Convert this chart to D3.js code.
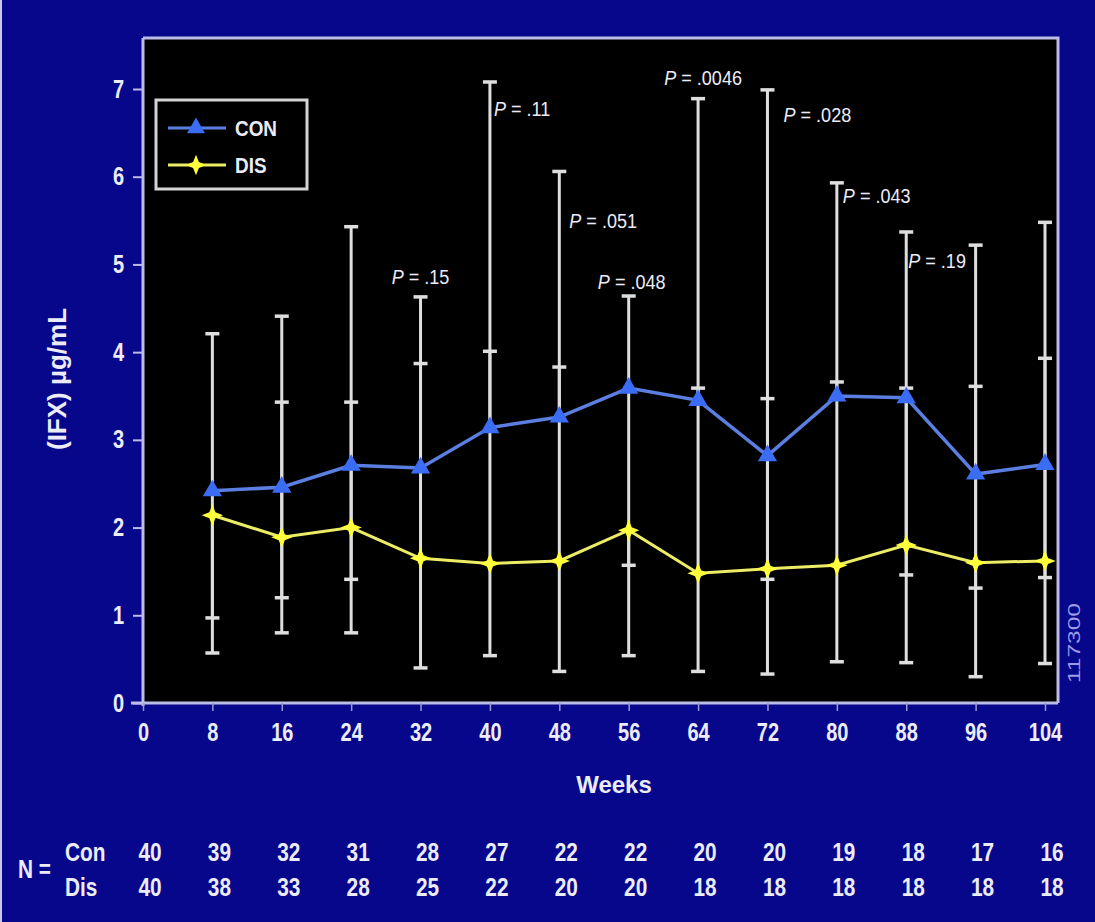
<!DOCTYPE html>
<html>
<head>
<meta charset="utf-8">
<script src="https://cdn.jsdelivr.net/npm/d3@7"></script>
<style>
  html, body { margin: 0; padding: 0; background: #07078c; }
  svg { display: block; }
</style>
</head>
<body>
<svg id="chart" width="1095" height="922"></svg>
<script>
// Infliximab trough levels (mean with ranges) for continuous vs. discontinuous groups
const weeks    = [8, 16, 24, 32, 40, 48, 56, 64, 72, 80, 88, 96, 104];
const conMean  = [2.42, 2.46, 2.71, 2.68, 3.14, 3.26, 3.59, 3.45, 2.82, 3.50, 3.48, 2.61, 2.72];
const disMean  = [2.14, 1.89, 2.00, 1.65, 1.59, 1.62, 1.97, 1.48, 1.53, 1.57, 1.80, 1.60, 1.62];
const conUpper = [4.21, 4.41, 5.43, 4.63, 7.08, 6.06, 4.64, 6.89, 6.99, 5.93, 5.37, 5.22, 5.48];
const conLower = [0.97, 1.20, 1.41, null, null, null, 1.57, null, 1.41, null, 1.46, 1.31, 1.43];
const disUpper = [null, 3.43, 3.43, 3.87, 4.01, 3.83, null, 3.59, 3.47, 3.66, 3.59, 3.61, 3.93];
const disLower = [0.57, 0.80, 0.80, 0.40, 0.54, 0.36, 0.54, 0.36, 0.33, 0.47, 0.46, 0.30, 0.45];

const xTicks = [0, 8, 16, 24, 32, 40, 48, 56, 64, 72, 80, 88, 96, 104];
const yTicks = [0, 1, 2, 3, 4, 5, 6, 7];

// P values between groups at selected visits
const pWeeks  = [32, 40, 48, 56, 64, 72, 80, 88];
const pTexts  = [".15", ".11", ".051", ".048", ".0046", ".028", ".043", ".19"];

// Patients remaining at each visit
const nWeeks = [0, 8, 16, 24, 32, 40, 48, 56, 64, 72, 80, 88, 96, 104];
const conN   = [40, 39, 32, 31, 28, 27, 22, 22, 20, 20, 19, 18, 17, 16];
const disN   = [40, 38, 33, 28, 25, 22, 20, 20, 18, 18, 18, 18, 18, 18];

// label placement for the P values: anchor, horizontal shift and baseline (in µg/mL)
const pPlacement = [
  { anchor: "middle", dx: 0,  at: 4.78 },
  { anchor: "start",  dx: 4,  at: 6.69 },
  { anchor: "start",  dx: 10, at: 5.42 },
  { anchor: "middle", dx: 3,  at: 4.72 },
  { anchor: "middle", dx: 5,  at: 7.05 },
  { anchor: "start",  dx: 16, at: 6.62 },
  { anchor: "start",  dx: 6,  at: 5.70 },
  { anchor: "start",  dx: 2,  at: 4.96 }
];

const FONT   = "'Liberation Sans', Arial, Helvetica, sans-serif";
const SQUEEZE = 0.8;   // horizontal condensing of the narrow lettering
const TEXT   = "#ececf8";
const FRAME  = "#bcbce8";
const BAR    = "#dedede";
const CON_LINE = "#5b7fe0", CON_MARK = "#3a6cf4";
const DIS_LINE = "#ecec66", DIS_MARK = "#ffff3c";

const svg = d3.select("#chart");

// condensed text placed at (x, y)
function narrowText(parent, x, y, str, anchor, sx) {
  return parent.append("text")
    .attr("transform", `translate(${x},${y}) scale(${sx || SQUEEZE},1)`)
    .attr("text-anchor", anchor || "start")
    .text(str);
}

// thin light strip on the left edge of the slide
svg.append("rect").attr("x", 0).attr("y", 0).attr("width", 2).attr("height", 922).attr("fill", "#c8c8ec");

const plot = { left: 143, right: 1058, top: 38, bottom: 703 };
const x = d3.scaleLinear().domain([0, 104]).range([143, 1045]);
const y = d3.scaleLinear().domain([0, 7]).range([703, 89]);

// black plotting area
svg.append("rect")
  .attr("x", plot.left).attr("y", plot.top)
  .attr("width", plot.right - plot.left).attr("height", plot.bottom - plot.top)
  .attr("fill", "#000");

// frame: top and right edges
svg.append("path")
  .attr("d", `M${plot.left},${plot.top} H${plot.right} V${plot.bottom}`)
  .attr("fill", "none").attr("stroke", FRAME).attr("stroke-width", 3);

// y axis
const yAxis = d3.axisLeft(y).tickValues(yTicks).tickSize(10).tickPadding(9).tickFormat(d3.format("d"));
const gy = svg.append("g").attr("transform", `translate(${plot.left},0)`).call(yAxis);
gy.select(".domain").attr("d", `M0,${plot.top}V${plot.bottom + 3}`).attr("stroke", FRAME).attr("stroke-width", 3);
gy.selectAll(".tick line").attr("stroke", FRAME).attr("stroke-width", 2);
gy.selectAll(".tick text").attr("fill", TEXT).style("font-family", FONT)
  .style("font-size", "25px").style("font-weight", "bold")
  .attr("x", -19 / SQUEEZE).attr("transform", `scale(${SQUEEZE},1)`);

// x axis
const xAxis = d3.axisBottom(x).tickValues(xTicks).tickSize(8).tickPadding(12).tickFormat(d3.format("d"));
const gx = svg.append("g").attr("transform", `translate(0,${plot.bottom})`).call(xAxis);
gx.select(".domain").attr("d", `M${plot.left - 12},0H${plot.right}`).attr("stroke", FRAME).attr("stroke-width", 3);
gx.selectAll(".tick line").attr("stroke", "#9a9acc").attr("stroke-width", 1.5);
gx.selectAll(".tick text").attr("fill", TEXT).style("font-family", FONT)
  .style("font-size", "25px").style("font-weight", "bold")
  .attr("transform", `scale(${SQUEEZE},1)`);

// axis titles
svg.append("text")
  .attr("x", 614).attr("y", 793).attr("text-anchor", "middle")
  .attr("fill", TEXT).style("font-family", FONT).style("font-size", "24px").style("font-weight", "bold")
  .text("Weeks");
svg.append("text")
  .attr("transform", "translate(66,379) rotate(-90)").attr("text-anchor", "middle")
  .attr("fill", TEXT).style("font-family", FONT).style("font-size", "26px").style("font-weight", "bold")
  .text("(IFX) µg/mL");

// error bars for both groups, drawn in white
const capW = 7;
function drawBars(mean, upper, lower) {
  const g = svg.append("g").attr("stroke", BAR).attr("fill", "none");
  weeks.forEach((w, i) => {
    const top = upper[i] != null ? upper[i] : mean[i];
    const bot = lower[i] != null ? lower[i] : mean[i];
    g.append("line").attr("x1", x(w)).attr("x2", x(w)).attr("y1", y(top)).attr("y2", y(bot)).attr("stroke-width", 3);
    [upper[i], lower[i]].forEach(v => {
      if (v == null) return;
      g.append("line").attr("x1", x(w) - capW).attr("x2", x(w) + capW)
        .attr("y1", y(v)).attr("y2", y(v)).attr("stroke-width", 3.5);
    });
  });
}
drawBars(conMean, conUpper, conLower);
drawBars(disMean, disUpper, disLower);

// four-pointed star marker
const symbolStar4 = {
  draw(ctx, size) {
    const r = Math.sqrt(size) * 0.72, ri = r * 0.4;
    for (let k = 0; k < 8; k++) {
      const a = k * Math.PI / 4 - Math.PI / 2;
      const rad = k % 2 ? ri : r;
      const px = Math.cos(a) * rad, py = Math.sin(a) * rad;
      if (k === 0) ctx.moveTo(px, py); else ctx.lineTo(px, py);
    }
    ctx.closePath();
  }
};

const line = d3.line().x(d => x(d[0])).y(d => y(d[1]));
const conPts = weeks.map((w, i) => [w, conMean[i]]);
const disPts = weeks.map((w, i) => [w, disMean[i]]);

svg.append("path").datum(conPts).attr("d", line)
  .attr("fill", "none").attr("stroke", CON_LINE).attr("stroke-width", 3.5);
svg.append("path").datum(disPts).attr("d", line)
  .attr("fill", "none").attr("stroke", DIS_LINE).attr("stroke-width", 3);

svg.append("g").selectAll("path").data(conPts).join("path")
  .attr("transform", d => `translate(${x(d[0])},${y(d[1])})`)
  .attr("d", d3.symbol(d3.symbolTriangle, 160))
  .attr("fill", CON_MARK);
svg.append("g").selectAll("path").data(disPts).join("path")
  .attr("transform", d => `translate(${x(d[0])},${y(d[1])})`)
  .attr("d", d3.symbol(symbolStar4, 220))
  .attr("fill", DIS_MARK);

// P value annotations
const pg = svg.append("g").attr("fill", TEXT).style("font-family", FONT).style("font-size", "21px");
pWeeks.forEach((w, i) => {
  const pl = pPlacement[i];
  const t = narrowText(pg, x(w) + pl.dx, y(pl.at), null, pl.anchor, 0.86);
  t.append("tspan").style("font-style", "italic").text("P");
  t.append("tspan").text(" = " + pTexts[i]);
});

// legend
const lg = svg.append("g").attr("transform", "translate(156,100)");
lg.append("rect").attr("width", 151).attr("height", 89)
  .attr("fill", "#000").attr("stroke", "#d4d4d4").attr("stroke-width", 3);
const legendItems = [
  { label: "CON", line: CON_LINE, mark: CON_MARK, sym: d3.symbolTriangle, size: 140, yy: 28 },
  { label: "DIS", line: DIS_LINE, mark: DIS_MARK, sym: symbolStar4, size: 200, yy: 65 }
];
legendItems.forEach(it => {
  lg.append("line").attr("x1", 12).attr("x2", 70).attr("y1", it.yy).attr("y2", it.yy)
    .attr("stroke", it.line).attr("stroke-width", 3);
  lg.append("path").attr("transform", `translate(40,${it.yy})`)
    .attr("d", d3.symbol(it.sym, it.size)).attr("fill", it.mark);
  narrowText(lg, 79, it.yy + 8, it.label, "start", 0.86)
    .attr("fill", TEXT).style("font-family", FONT).style("font-size", "22px").style("font-weight", "bold");
});

// slide reference number along the right edge
svg.append("text")
  .attr("transform", "translate(1080,643) rotate(-90)").attr("text-anchor", "middle")
  .attr("fill", "#9c9ce4").style("font-family", FONT).style("font-size", "16px")
  .attr("textLength", 80).attr("lengthAdjust", "spacingAndGlyphs")
  .text("117300");

// patient numbers under the axis
const ng = svg.append("g").attr("fill", TEXT).style("font-family", FONT)
  .style("font-size", "26px").style("font-weight", "bold");
narrowText(ng, 18, 878, "N =", "start");
narrowText(ng, 65, 861, "Con", "start");
narrowText(ng, 65, 896, "Dis", "start");
nWeeks.forEach((w, i) => {
  narrowText(ng, x(w) + 7, 861, conN[i], "middle");
  narrowText(ng, x(w) + 7, 896, disN[i], "middle");
});
</script>
</body>
</html>
